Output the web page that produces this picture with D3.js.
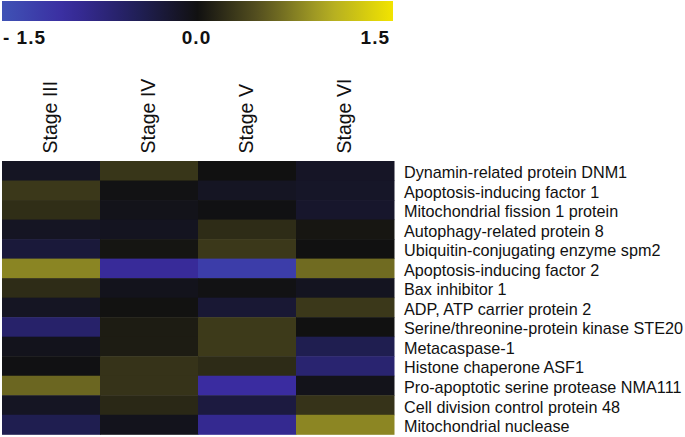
<!DOCTYPE html>
<html><head><meta charset="utf-8">
<script src="https://cdn.jsdelivr.net/npm/d3@7"></script>
<style>body{margin:0;background:#fff} svg{display:block}</style>
</head><body><svg id="c" width="685" height="437"></svg>
<script>
const stages = ["Stage III", "Stage IV", "Stage V", "Stage VI"];
const proteins = [
  "Dynamin-related protein DNM1",
  "Apoptosis-inducing factor 1",
  "Mitochondrial fission 1 protein",
  "Autophagy-related protein 8",
  "Ubiquitin-conjugating enzyme spm2",
  "Apoptosis-inducing factor 2",
  "Bax inhibitor 1",
  "ADP, ATP carrier protein 2",
  "Serine/threonine-protein kinase STE20",
  "Metacaspase-1",
  "Histone chaperone ASF1",
  "Pro-apoptotic serine protease NMA111",
  "Cell division control protein 48",
  "Mitochondrial nuclease"
];
const stageIII = [-0.12, 0.29, 0.21, -0.12, -0.27, 0.78, 0.20, -0.12, -0.60, -0.07, -0.01, 0.60, -0.12, -0.42];
const stageIV  = [0.27, -0.02, -0.06, -0.10, 0.03, -0.95, -0.07, 0.01, 0.08, 0.08, 0.25, 0.25, 0.17, -0.07];
const stageV   = [0.00, -0.12, -0.01, 0.20, 0.29, -1.22, -0.02, -0.23, 0.30, 0.30, 0.19, -1.00, -0.31, -0.88];
const stageVI  = [-0.14, -0.15, -0.18, 0.04, 0.00, 0.63, -0.10, 0.29, 0.00, -0.42, -0.65, -0.06, 0.25, 0.79];
const legendTicks = [-1.5, 0, 1.5];
const legendLabels = ["- 1.5", "0.0", "1.5"];

const series = [stageIII, stageIV, stageV, stageVI];
const cells = [];
series.forEach((vals, ci) => vals.forEach((v, ri) => cells.push({stage: stages[ci], protein: proteins[ri], value: v})));

const colorDomain = [-1.5, -1, -0.5, 0, 0.5, 1, 1.5];
const colorRange = ["#3f52b5", "#3a2ca0", "#22205c", "#111111", "#5a5520", "#b0aa25", "#f2e400"];
const color = d3.scaleLinear().domain(colorDomain).range(colorRange).clamp(true);

const font = "'Liberation Sans', Arial, Helvetica, sans-serif";
const svg = d3.select("#c").style("font-family", font);

// Colour bar
const lx = d3.scaleLinear().domain([-1.5, 1.5]).range([2, 393]);
const grad = svg.append("defs").append("linearGradient").attr("id", "cb")
  .attr("x1", "0%").attr("x2", "100%").attr("y1", "0%").attr("y2", "0%");
d3.range(0, 1.0001, 0.05).forEach(t => {
  grad.append("stop").attr("offset", (t * 100) + "%").attr("stop-color", color(-1.5 + 3 * t));
});
svg.append("rect").attr("x", lx(-1.5)).attr("y", 1).attr("width", lx(1.5) - lx(-1.5)).attr("height", 20)
  .attr("fill", "url(#cb)");
svg.append("g").selectAll("text").data(legendTicks).join("text")
  .attr("x", (d, i) => lx(d) + (i === 0 ? 1 : i === 2 ? -3 : -1))
  .attr("y", 44)
  .attr("text-anchor", (d, i) => i === 0 ? "start" : i === 2 ? "end" : "middle")
  .attr("font-size", 19).attr("font-weight", "bold").attr("letter-spacing", 1)
  .attr("fill", "#111")
  .text((d, i) => legendLabels[i]);

// Heatmap
const x = d3.scaleBand().domain(stages).range([2, 394]).padding(0);
const y = d3.scaleBand().domain(proteins).range([161, 434.3]).padding(0);

svg.append("g").selectAll("rect").data(cells).join("rect")
  .attr("x", d => x(d.stage)).attr("y", d => y(d.protein))
  .attr("width", x.bandwidth() + 0.5).attr("height", y.bandwidth() + 0.5)
  .attr("fill", d => color(d.value));

// Column labels
svg.append("g").selectAll("text").data(stages).join("text")
  .attr("transform", d => `translate(${x(d) + x.bandwidth() / 2 + 5.5},153.5) rotate(-90)`)
  .attr("font-size", 19.5).attr("fill", "#111")
  .text(d => d);

// Row labels
svg.append("g").selectAll("text").data(proteins).join("text")
  .attr("x", 404).attr("y", d => y(d) + y.bandwidth() / 2 + 7.5)
  .attr("font-size", 16.2).attr("fill", "#111")
  .text(d => d);
</script>
</body></html>
